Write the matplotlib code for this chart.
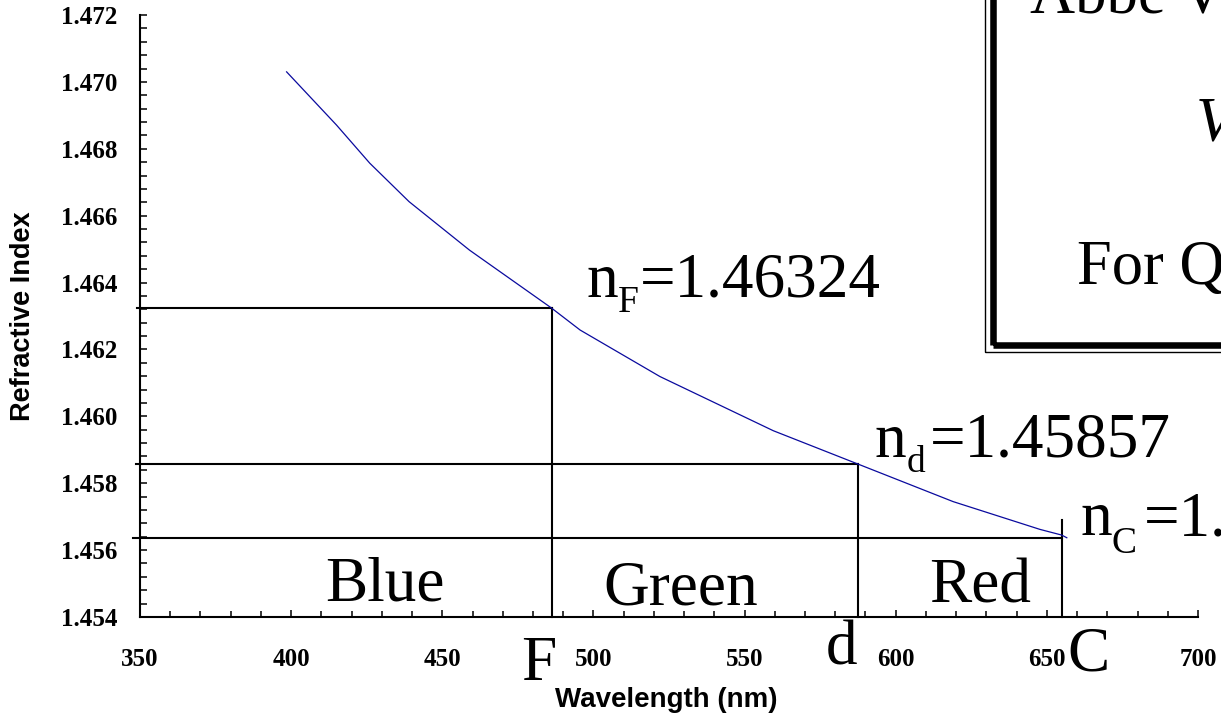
import matplotlib
matplotlib.use("Agg")
import matplotlib.pyplot as plt
from matplotlib.ticker import MultipleLocator, FormatStrFormatter
from matplotlib.patches import Rectangle

# Dispersion curve of fused quartz
wavelength_nm = [398.5, 415.0, 426.0, 439.0, 459.0, 486.1, 495.6, 522.0,
                 546.3, 559.5, 587.6, 619.0, 647.7, 654.9, 656.6]
refractive_index = [1.47030, 1.46871, 1.46757, 1.46642, 1.46497, 1.46324,
                    1.46258, 1.46119, 1.46014, 1.45957, 1.45857, 1.45745,
                    1.45662, 1.45645, 1.45637]

# Fraunhofer lines
line_names = ['F', 'd', 'C']
line_nm = [486.3, 587.5, 655.0]
line_n = [1.46324, 1.45857, 1.45637]
line_values = ['=1.46324', '=1.45857', '=1.45637']

bands = ['Blue', 'Green', 'Red']

xlim = (350, 700)
ylim = (1.454, 1.472)

SERIF = 'Liberation Serif'
SANS = 'Liberation Sans'
PX = 0.72  # points per pixel at 100 dpi

fig = plt.figure(figsize=(12.21, 7.17), dpi=100)
ax = fig.add_axes([0.11466, 0.13947, 0.86650, 0.83961])
ax.set_xlim(*xlim)
ax.set_ylim(*ylim)

# curve
ax.plot(wavelength_nm, refractive_index, color='#0a0a9e', lw=0.9, zorder=3,
        clip_on=False)

# guide lines at the Fraunhofer wavelengths
hline_start = [348.9, 348.7, 347.6]
vline_top = [line_n[0], line_n[1], 1.4569]
for x0, xl, yl, yt in zip(hline_start, line_nm, line_n, vline_top):
    ax.plot([x0, xl], [yl, yl], color='black', lw=1.5, clip_on=False, zorder=2)
    ax.plot([xl, xl], [ylim[0], yt], color='black', lw=1.5, clip_on=False, zorder=2)

big = dict(family=SERIF, fontsize=45.5, color='black')

# band names
band_x = [431.0, 529.0, 627.9]
band_y = [1.45448, 1.45436, 1.45442]
for name, bx, by in zip(bands, band_x, band_y):
    ax.text(bx, by, name, ha='center', va='baseline', **big)

# line letters under the axis
letter_x = [481.8, 582.1, 663.9]
letter_y = [1.45212, 1.45257, 1.45239]
for name, lx, ly in zip(line_names, letter_x, letter_y):
    ax.text(lx, ly, name, ha='center', va='baseline', **big)

# index values: "n", subscript letter, "=value"
val_x = [497.8, 593.1, 661.0]
val_y = [1.46358, 1.45879, 1.45645]
sub_dx = [31.5, 31.7, 31.5]      # pixels from the start of "n"
sub_drop = [15.0, 15.0, 18.0]    # pixels below the baseline
eq_dx = [53.5, 55.0, 63.5]
for name, val, vx, vy, sdx, sdr, edx in zip(line_names, line_values, val_x, val_y,
                                            sub_dx, sub_drop, eq_dx):
    ax.text(vx, vy, 'n', ha='left', va='baseline', **big)
    ax.annotate(name, (vx, vy), xytext=(sdx * PX, -sdr * PX), textcoords='offset points',
                ha='left', va='baseline', family=SERIF, fontsize=27, annotation_clip=False)
    ax.annotate(val, (vx, vy), xytext=(edx * PX, 0), textcoords='offset points',
                ha='left', va='baseline', annotation_clip=False, **big)

# axes styling
for side in ('top', 'right'):
    ax.spines[side].set_visible(False)
for side in ('left', 'bottom'):
    ax.spines[side].set_linewidth(1.5)

ax.xaxis.set_major_locator(MultipleLocator(50))
ax.xaxis.set_minor_locator(MultipleLocator(10))
ax.yaxis.set_major_locator(MultipleLocator(0.002))
ax.yaxis.set_minor_locator(MultipleLocator(0.0004))
ax.yaxis.set_major_formatter(FormatStrFormatter('%.3f'))

ax.tick_params(axis='x', which='major', direction='in', length=5.3, width=1.1, pad=22)
ax.tick_params(axis='x', which='minor', direction='in', length=4.0, width=1.1)
ax.tick_params(axis='y', which='both', direction='in', length=5.0, width=1.1, pad=16.5)
for lbl in ax.get_xticklabels() + ax.get_yticklabels():
    lbl.set_fontfamily(SERIF)
    lbl.set_fontweight('bold')
    lbl.set_fontsize(18)

ax.set_xlabel('Wavelength (nm)', family=SANS, fontweight='bold', fontsize=20, va='top')
ax.xaxis.set_label_coords(0.4978, -0.116)
ax.set_ylabel('Refractive Index', family=SANS, fontweight='bold', fontsize=19.5, va='center')
ax.yaxis.set_label_coords(-0.1106, 0.5)

# framed note at the upper right
W, H = 1221.0, 717.0
box_bottom = 345.0
def fx(px):
    return px / W
def fy(py):
    return 1 - py / H

fig.patches.append(Rectangle((fx(985), fy(box_bottom + 7)), fx(1300 - 985), fy(-50) - fy(box_bottom + 7),
                             transform=fig.transFigure, fill=False, ec='black', lw=1.0))
fig.patches.append(Rectangle((fx(992.7), fy(box_bottom)), fx(1300 - 992.7), fy(-50) - fy(box_bottom),
                             transform=fig.transFigure, fill=False, ec='black', lw=4.7))

fig.text(fx(1030), fy(13), 'Abbe V-number', family=SERIF, fontsize=45, ha='left', va='baseline')
fig.text(fx(1196), fy(141), 'V = (nd − 1)/(nF − nC)', family=SERIF, style='italic',
         fontsize=45, ha='left', va='baseline')
fig.text(fx(1076.7), fy(284), 'For Quartz V = 66.7', family=SERIF, fontsize=45, ha='left', va='baseline')

fig.savefig('out.png', dpi=100)
